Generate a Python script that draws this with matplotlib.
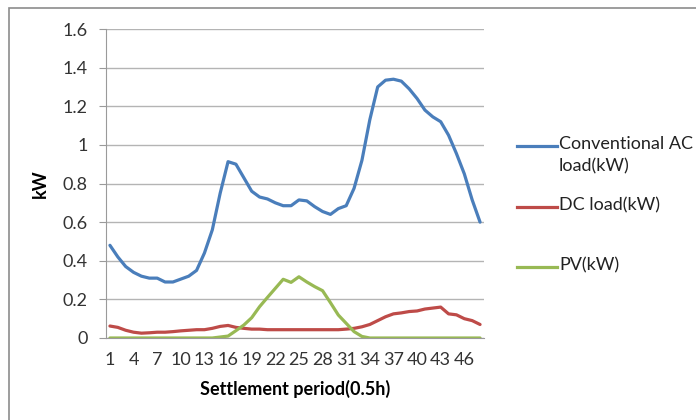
import matplotlib
matplotlib.use("Agg")
import matplotlib.pyplot as plt
from matplotlib.lines import Line2D
from matplotlib.patches import Rectangle
import numpy as np

plt.rcParams['font.family'] = ['Lato', 'DejaVu Sans']

periods = list(range(1, 49))

ac_load = [0.48, 0.42, 0.37, 0.34, 0.32, 0.31, 0.31, 0.29, 0.29, 0.305,
           0.32, 0.35, 0.44, 0.56, 0.75, 0.913, 0.90, 0.83, 0.76, 0.73,
           0.72, 0.70, 0.685, 0.685, 0.715, 0.71, 0.68, 0.655, 0.64, 0.67,
           0.685, 0.775, 0.92, 1.13, 1.30, 1.335, 1.34, 1.33, 1.29, 1.24,
           1.18, 1.145, 1.12, 1.05, 0.955, 0.85, 0.715, 0.60]

dc_load = [0.062, 0.055, 0.04, 0.03, 0.025, 0.027, 0.03, 0.03, 0.033, 0.037,
           0.04, 0.043, 0.043, 0.05, 0.06, 0.065, 0.055, 0.05, 0.046, 0.046,
           0.043, 0.043, 0.043, 0.043, 0.043, 0.043, 0.043, 0.043, 0.043, 0.043,
           0.046, 0.05, 0.058, 0.07, 0.09, 0.11, 0.125, 0.13, 0.137, 0.14,
           0.15, 0.155, 0.16, 0.125, 0.12, 0.10, 0.09, 0.07]

pv = [0, 0, 0, 0, 0, 0, 0, 0, 0, 0,
      0, 0, 0, 0, 0.005, 0.01, 0.038, 0.067, 0.105, 0.162,
      0.21, 0.257, 0.304, 0.288, 0.317, 0.29, 0.266, 0.245, 0.183, 0.119,
      0.076, 0.033, 0.008, 0, 0, 0, 0, 0, 0, 0,
      0, 0, 0, 0, 0, 0, 0, 0]

series_names = ["Conventional AC\nload(kW)", "DC load(kW)", "PV(kW)"]
colors = ["#4A7EBB", "#BE4B48", "#98B954"]

W, H = 696, 420
fig = plt.figure(figsize=(W / 100, H / 100), dpi=100)

# outer chart frame (top and left edges visible)
fig.add_artist(Rectangle((9 / W, -0.1), 1.2, (H - 8) / H + 0.1,
                         transform=fig.transFigure, fill=False,
                         edgecolor="#8c8c8c", linewidth=1.2))

ax = fig.add_axes([106 / W, 82 / H, 378 / W, 309 / H])

for vals, c in zip([ac_load, dc_load, pv], colors):
    ax.plot(periods, vals, color=c, linewidth=2.3, solid_capstyle="round",
            solid_joinstyle="round")

ax.set_xlim(0.5, 48.5)
ax.set_ylim(0, 1.6)
ax.set_yticks(np.arange(0, 1.61, 0.2))
ax.set_yticklabels([f"{v:g}" for v in np.arange(0, 1.61, 0.2).round(1)])
ax.set_xticks(periods[::3])
ax.set_xticklabels([str(p) for p in periods[::3]])

ax.grid(axis="y", color="#b4b4b4", linewidth=1.0)
ax.set_axisbelow(True)
for s in ["top", "right"]:
    ax.spines[s].set_visible(False)
ax.spines["left"].set_color("#9a9a9a")
ax.spines["bottom"].set_color("#9a9a9a")
ax.tick_params(axis="y", length=5, color="#9a9a9a", labelsize=13,
               labelcolor="#333333", pad=8)
ax.tick_params(axis="x", length=0, labelsize=13, labelcolor="#333333", pad=10)

ax.set_ylabel("kW", fontsize=13, fontweight="bold", labelpad=10)
ax.set_xlabel("Settlement period(0.5h)", fontsize=13, fontweight="bold",
              labelpad=9)

# legend entries
legend_rows = [146, 207, 267]
for ly, name, c in zip(legend_rows, series_names, colors):
    fig.add_artist(Line2D([517 / W, 557 / W], [1 - ly / H, 1 - ly / H],
                          transform=fig.transFigure, color=c, linewidth=2.3))
    fig.text(559 / W, 1 - (ly - 10) / H, name, fontsize=13, va="top",
             ha="left", color="#222222", linespacing=1.45)

fig.savefig("out.png", dpi=100)
